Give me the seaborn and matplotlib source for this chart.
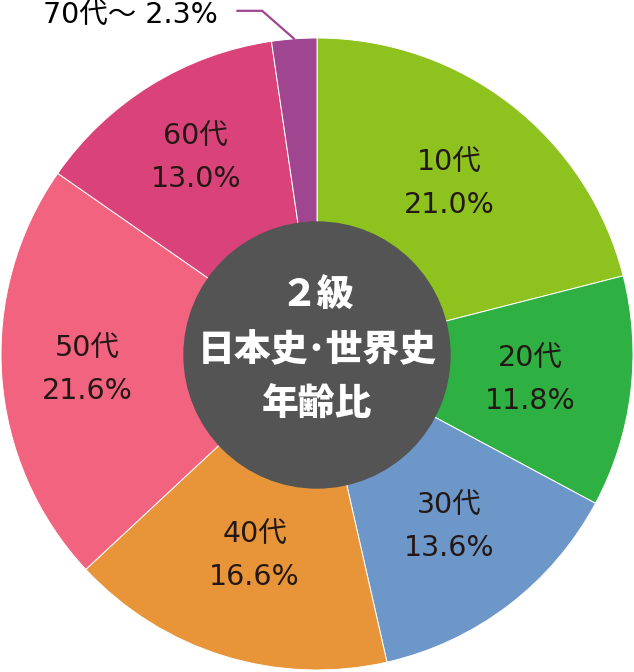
import numpy as np
import matplotlib
matplotlib.use("Agg")
import matplotlib.pyplot as plt
import seaborn as sns
from matplotlib.patches import Circle

# data
ages = ["10代", "20代", "30代", "40代", "50代", "60代", "70代～"]
shares = [21.0, 11.8, 13.6, 16.6, 21.6, 13.0, 2.3]
colors = ["#8DC21F", "#2EB042", "#6D97C9", "#E8953A", "#F2637F", "#D94379", "#A0458F"]
center_lines = ["２級", "日本史･世界史", "年齢比"]

sns.set_theme(style="white")
plt.rcParams["font.family"] = ["Noto Sans CJK JP", "DejaVu Sans"]
label_font = ["DejaVu Sans", "Noto Sans CJK JP"]

W, H = 634, 672
fig = plt.figure(figsize=(W / 100, H / 100), dpi=100)
ax = fig.add_axes([0, 0, 1, 1])

cx, cy, R = 317, 318, 316
wedges, _ = ax.pie(shares, colors=colors, startangle=90, counterclock=False,
                   center=(cx, cy), radius=R,
                   wedgeprops=dict(edgecolor="white", linewidth=0.7))

# labels inside slices (radius per slice, as fraction of R)
label_r = [0.68, 0.68, 0.69, 0.67, 0.73, 0.73]
txt_color = "#231815"
for w, age, val, r in zip(wedges[:-1], ages[:-1], shares[:-1], label_r):
    mid = np.deg2rad((w.theta1 + w.theta2) / 2)
    x = cx + r * R * np.cos(mid)
    y = cy + r * R * np.sin(mid)
    ax.text(x, y + 22, age, ha="center", va="center", fontsize=20.5,
            color=txt_color, family=label_font)
    ax.text(x, y - 21, f"{val:.1f}%", ha="center", va="center", fontsize=20.5,
            color=txt_color, family=label_font)

# small last slice: leader line + outside label
w = wedges[-1]
mid = np.deg2rad((w.theta1 + w.theta2) / 2)
x0 = cx + R * np.cos(mid)
y0 = cy + R * np.sin(mid)
ax.plot([x0, x0 - 32, x0 - 57], [y0, y0 + 28, y0 + 28], color=colors[-1], lw=1.6,
        solid_joinstyle="miter")
ax.text(x0 - 76, y0 + 24, f"{ages[-1]} {shares[-1]:.1f}%", ha="right", va="center",
        fontsize=20.5, color="black", family=label_font)

# dark centre disc with title
ax.add_patch(Circle((cx, cy - 1), 133, color="#545454", zorder=3))
for line, dy in zip(center_lines, [59, 4, -51]):
    ax.text(cx, cy + dy, line, ha="center", va="center", fontsize=26.5,
            fontweight="black", color="white", zorder=4)

ax.set_xlim(0, W)
ax.set_ylim(0, H)
ax.set_aspect("auto")
ax.axis("off")

fig.savefig("out.png", dpi=100, facecolor="white")
